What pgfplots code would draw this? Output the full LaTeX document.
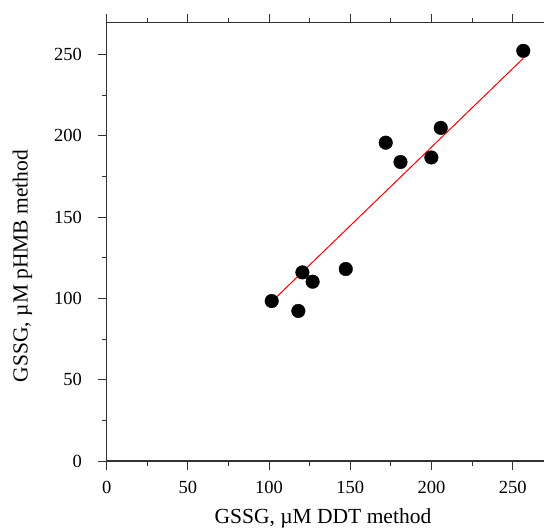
\documentclass[border=0pt]{standalone}
\usepackage{pgfplots}
\pgfplotsset{compat=1.18}
\usepackage{fontspec}
\setmainfont{Liberation Serif}
\begin{document}
\begin{tikzpicture}
\path[use as bounding box] (-106.7pt,-70pt) rectangle (437.3pt,461pt);
\begin{axis}[
 at={(0pt,0pt)}, anchor=south west,
 scale only axis, width=438.5pt, height=438.3pt,
 xmin=0, xmax=270, ymin=0, ymax=269.6,
 xtick={0,50,100,150,200,250}, ytick={0,50,100,150,200,250},
 xticklabels={0,50,100,150,200,250}, yticklabels={0,50,100,150,200,250},
 minor xtick={25,75,...,225}, minor ytick={25,75,...,225},
 tick align=outside,
 major tick length=9pt, minor tick length=5pt,
 ytick pos=left,
 axis line style={line width=1.2pt, black!80},
 every tick/.style={black!80, line width=1pt},
 tick label style={font=\rmfamily\fontsize{18.5}{18.5}\selectfont, inner sep=0pt},
 xticklabel style={anchor=base, yshift=-23pt},
 yticklabel style={anchor=east, xshift=-15.7pt},
 xlabel={GSSG, µM DDT method}, ylabel={GSSG, µM pHMB method},
 every axis x label/.style={at={(axis description cs:0.5,0)}, yshift=-62pt, xshift=-3pt, anchor=base},
 every axis y label/.style={at={(axis description cs:0,0.445)}, xshift=-84.2pt, rotate=90, anchor=center},
 label style={font=\rmfamily\fontsize{21.5}{21.5}\selectfont},
 clip=false,
]
\addplot[red, line width=1pt] coordinates {(101.6,98.0) (256.5,247.7)};
\addplot[only marks, mark=*, mark size=6.8pt, mark options={fill=black, draw=black}] table {
x y
101.6 98.4
118.0 92.3
120.5 116.0
126.8 110.3
147.2 118.1
171.8 195.8
180.9 183.9
199.9 186.7
205.7 204.9
256.5 252.3
};
\end{axis}
\end{tikzpicture}
\end{document}
